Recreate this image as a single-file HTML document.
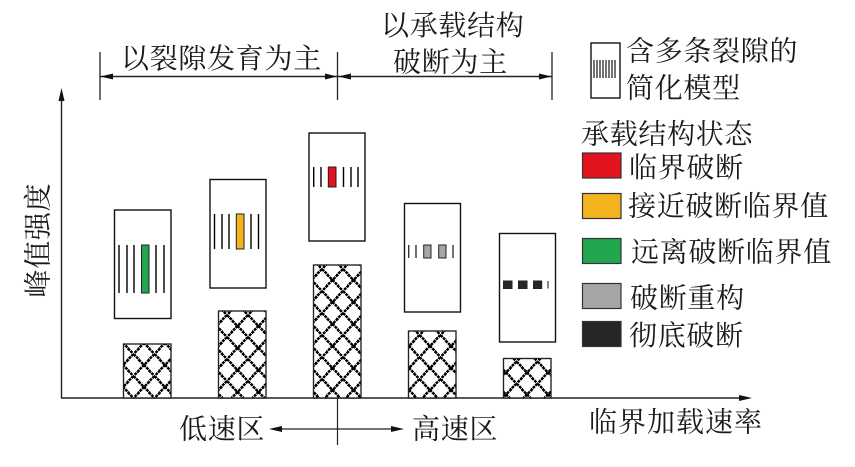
<!DOCTYPE html>
<html lang="zh"><head><meta charset="utf-8"><style>
html,body{margin:0;padding:0;background:#fff;width:855px;height:467px;overflow:hidden}
svg{display:block}
text{font-family:"Liberation Serif","Noto Serif CJK SC",serif;font-size:28px;letter-spacing:0.7px;fill:#1a1a1a}
</style></head><body>
<svg width="855" height="467" viewBox="0 0 855 467" xmlns="http://www.w3.org/2000/svg">
<defs>
<pattern id="h3" width="21" height="22" patternUnits="userSpaceOnUse" patternTransform="translate(8.5,4)">
<path d="M0 0L21 22M21 0L0 22" stroke="#000" stroke-width="2.5" stroke-dasharray="3 0.7" fill="none" shape-rendering="crispEdges"/>
</pattern>
<pattern id="h1" width="21" height="22" patternUnits="userSpaceOnUse" patternTransform="translate(10,10)">
<path d="M0 0L21 22M21 0L0 22" stroke="#000" stroke-width="2.5" stroke-dasharray="3 0.7" fill="none" shape-rendering="crispEdges"/>
</pattern>
<pattern id="h4" width="21" height="22" patternUnits="userSpaceOnUse" patternTransform="translate(11,4)">
<path d="M0 0L21 22M21 0L0 22" stroke="#000" stroke-width="2.5" stroke-dasharray="3 0.7" fill="none" shape-rendering="crispEdges"/>
</pattern>
<pattern id="h5" width="21" height="22" patternUnits="userSpaceOnUse" patternTransform="translate(13,3)">
<path d="M0 0L21 22M21 0L0 22" stroke="#000" stroke-width="2.5" stroke-dasharray="3 0.7" fill="none" shape-rendering="crispEdges"/>
</pattern>
</defs>
<!-- axes -->
<g stroke="#222" fill="none">
<path d="M61.5 96V398" stroke-width="1.4"/>
<path d="M61 398H742" stroke-width="1.6"/>
<path d="M100 52V100M337.5 52V100M552 52V100" stroke-width="1.3"/>
<path d="M100 76.500H552" stroke-width="1.4"/>
<path d="M337.5 398V445" stroke-width="1.2"/>
<path d="M280 429H395" stroke-width="1.2"/>
</g>
<g fill="#111">
<path d="M61.5 88L64.5 101H58.5Z"/>
<path d="M752 398L739 395V401Z"/>
<path d="M100.500 76.500L113 73.500V79.500Z"/>
<path d="M337 76.500L325 73.500V79.500Z"/>
<path d="M338.500 76.500L351 73.500V79.500Z"/>
<path d="M551.500 76.500L539 73.500V79.500Z"/>
<path d="M269 429L282 426V432Z"/>
<path d="M404 429L391 426V432Z"/>
</g>
<!-- bars -->
<g stroke="#222" stroke-width="1.2">
<g transform="translate(123.5,344)"><rect width="47.500" height="54" fill="#fff"/><rect width="47.500" height="54" fill="url(#h1)"/></g>
<g transform="translate(218.500,311)"><rect width="47.500" height="87" fill="#fff"/><rect width="47.500" height="87" fill="url(#h3)"/></g>
<g transform="translate(313.500,265)"><rect width="47.500" height="133" fill="#fff"/><rect width="47.500" height="133" fill="url(#h3)"/></g>
<g transform="translate(408.500,331)"><rect width="47.500" height="67" fill="#fff"/><rect width="47.500" height="67" fill="url(#h4)"/></g>
<g transform="translate(503.500,358.500)"><rect width="47.500" height="39.500" fill="#fff"/><rect width="47.500" height="39.500" fill="url(#h5)"/></g>
</g>
<!-- boxes -->
<g fill="#fff" stroke="#111" stroke-width="1.4">
<rect x="114.500" y="210" width="56.500" height="108.500"/>
<rect x="210" y="179.500" width="56" height="108.500"/>
<rect x="309" y="133" width="56" height="108"/>
<rect x="404.500" y="203.500" width="56" height="108.500"/>
<rect x="499.500" y="233.500" width="56" height="108.500"/>
<rect x="591" y="43" width="29" height="55"/>
</g>
<!-- cracks -->
<g stroke="#000" stroke-width="1.4" fill="none">
<path d="M119 245V293M127 245V293M134 245V293M156 245V293M164 245V293"/>
<path d="M214.500 214V249M222 214V249M229 214V249M251 214V249M258.500 214V249"/>
<path d="M313.700 167V187M321 167V187M343.500 167V187M351 167V187M358 167V187"/>
<path d="M408.700 245V258M416 245V258M453 245V258" stroke="#333"/>
<path d="M548 281V288.500" stroke="#555"/>
<path d="M594 60V78M597 60V78M600 60V78M603 60V78M606 60V78M609 60V78M612 60V78M615 60V78" stroke-width="1.1"/>
</g>
<g stroke-width="1" stroke="#222">
<rect x="141.500" y="245" width="7.500" height="48" fill="#22a64e"/>
<rect x="236.300" y="214" width="7.700" height="35" fill="#f2b31f"/>
<rect x="328.300" y="167" width="7.700" height="20" fill="#e3141f"/>
<rect x="423.700" y="245" width="7.300" height="13" fill="#a6a6a6"/>
<rect x="438.700" y="245" width="7.300" height="13" fill="#a6a6a6"/>
<rect x="503.500" y="281" width="8.500" height="7.500" fill="#262626"/>
<rect x="518.500" y="281" width="8.500" height="7.500" fill="#262626"/>
<rect x="533.500" y="281" width="8.200" height="7.500" fill="#262626"/>
</g>
<!-- legend swatches -->
<g stroke="#333" stroke-width="1.2">
<rect x="582.500" y="153" width="38.500" height="25" fill="#e3141f"/>
<rect x="582.500" y="193.500" width="38.500" height="25" fill="#f2b31f"/>
<rect x="582.500" y="238.500" width="38.500" height="25" fill="#22a64e"/>
<rect x="582.500" y="283.500" width="38.500" height="25" fill="#a6a6a6"/>
<rect x="582.500" y="321.500" width="38.500" height="25" fill="#262626"/>
</g>
<!-- labels -->
<text x="121" y="68">以裂隙发育为主</text>
<text x="381" y="35">以承载结构</text>
<text x="393" y="71.500">破断为主</text>
<text x="626" y="60.500">含多条裂隙的</text>
<text x="626" y="97.500">简化模型</text>
<text x="581" y="143.500">承载结构状态</text>
<text x="629" y="177">临界破断</text>
<text x="628" y="215.500">接近破断临界值</text>
<text x="631" y="261.500">远离破断临界值</text>
<text x="630" y="307.500">破断重构</text>
<text x="629" y="345">彻底破断</text>
<text x="179" y="438.500">低速区</text>
<text x="412" y="438.500">高速区</text>
<text x="589" y="431.500" style="letter-spacing:1px">临界加载速率</text>
<text transform="translate(47.500,297.500) rotate(-90)">峰值强度</text>
</svg>
</body></html>
